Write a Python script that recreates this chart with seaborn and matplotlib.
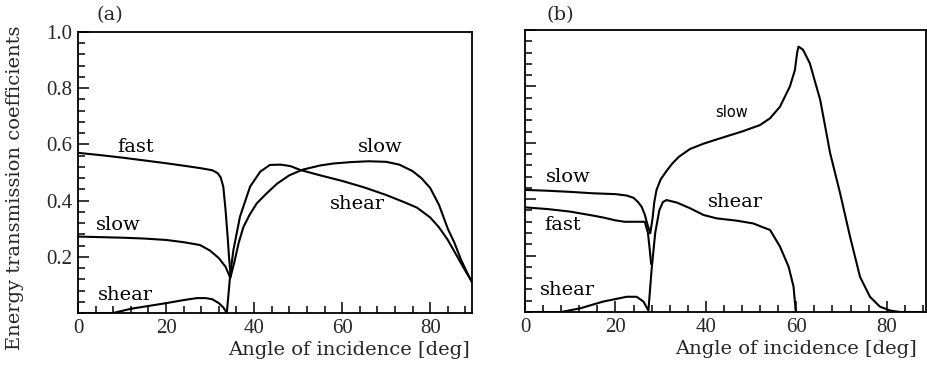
import matplotlib
matplotlib.use("Agg")
import matplotlib.pyplot as plt
from matplotlib.ticker import MultipleLocator, FixedLocator, FixedFormatter
import seaborn as sns

# ---------------- data ----------------
# panel (a)
fast_a_x = [0, 5, 10, 15, 20, 25, 28, 30.5, 31.7, 32.4, 33, 33.5, 34, 34.3, 34.7]
fast_a_y = [0.57, 0.562, 0.553, 0.543, 0.533, 0.522, 0.515, 0.508, 0.498, 0.483, 0.45, 0.37, 0.27, 0.2, 0.13]

slow_a_x = [0, 5, 10, 15, 20, 24, 27.7, 30, 32, 33.5, 34.6, 35.5, 36.5, 37.6, 39, 40.6, 42.8, 45.2, 48, 51,
            55, 58, 62, 66, 70, 73, 76, 78, 80, 82, 84, 85.5, 87, 88.5, 89.5]
slow_a_y = [0.272, 0.27, 0.268, 0.265, 0.26, 0.252, 0.242, 0.222, 0.195, 0.165, 0.125, 0.18, 0.25, 0.307, 0.35,
            0.39, 0.425, 0.46, 0.49, 0.51, 0.525, 0.532, 0.537, 0.54, 0.538, 0.528, 0.505, 0.48, 0.445, 0.385,
            0.3, 0.25, 0.19, 0.14, 0.11]

shear_a_x = [0, 5, 8, 12, 16, 20, 24, 27, 29, 30.5, 32, 33, 33.8, 34.6, 35.3, 36.8, 39.1, 41.4, 43.6, 46, 48.2,
             50.5, 55, 60, 65, 70, 74, 77, 80, 82, 84, 86, 88, 89.5]
shear_a_y = [0.0, 0.0, 0.0, 0.015, 0.025, 0.035, 0.046, 0.053, 0.053, 0.049, 0.035, 0.02, 0.0, 0.14, 0.224,
             0.343, 0.45, 0.503, 0.527, 0.528, 0.523, 0.509, 0.49, 0.47, 0.447, 0.42, 0.395, 0.375, 0.34, 0.305,
             0.26, 0.205, 0.15, 0.11]

# panel (b)
fast_b_x = [0, 5, 10, 15, 17.3, 20, 22, 26.5, 27.2, 27.6, 27.9]
fast_b_y = [0.371, 0.365, 0.356, 0.342, 0.335, 0.325, 0.32, 0.32, 0.28, 0.22, 0.17]

slow_b_x = [0, 5, 10, 15, 20, 22.5, 24, 25, 25.8, 26.5, 27, 27.7, 28.2, 28.6, 29.1, 30, 31.3, 32.5, 34, 36.5,
            39.5, 43, 48, 52, 54.2, 56.4, 58.6, 59.7, 60.2, 60.5, 61.5, 63, 65.3, 67.5, 69.7, 71.9, 74.1, 76.3,
            78.5, 80.8, 83, 89]
slow_b_y = [0.433, 0.43, 0.426, 0.421, 0.418, 0.413, 0.405, 0.39, 0.373, 0.345, 0.315, 0.279, 0.33, 0.39, 0.433,
            0.47, 0.5, 0.525, 0.55, 0.578, 0.597, 0.615, 0.64, 0.663, 0.687, 0.728, 0.8, 0.858, 0.92, 0.941, 0.93,
            0.882, 0.752, 0.563, 0.421, 0.267, 0.125, 0.054, 0.019, 0.005, 0.0, 0.0]

shear_b_x = [0, 8, 12.2, 17.3, 22.5, 24.7, 26.2, 27.3, 28, 28.8, 29.7, 30.5, 31.3, 33.6, 36.5, 39.5, 42.4, 46.8,
             50.5, 52.7, 54.2, 56.4, 58.3, 59.4, 59.9]
shear_b_y = [0.0, 0.0, 0.013, 0.037, 0.054, 0.054, 0.037, 0.005, 0.15, 0.28, 0.36, 0.39, 0.397, 0.388, 0.368,
             0.344, 0.332, 0.324, 0.314, 0.3, 0.291, 0.232, 0.161, 0.09, 0.0]

x_ticks = [0, 20, 40, 60, 80]
y_ticks = [0.2, 0.4, 0.6, 0.8, 1.0]
y_tick_labels = ["0.2", "0.4", "0.6", "0.8", "1.0"]

# ---------------- style ----------------
sns.set_style("ticks")
plt.rcParams["font.family"] = ["Liberation Serif", "DejaVu Serif"]

fig = plt.figure(figsize=(9.28, 3.67), dpi=100)
ax_a = fig.add_axes([78 / 928, 1 - 313 / 367, 394 / 928, 281 / 367])
ax_b = fig.add_axes([525 / 928, 1 - 312 / 367, 401 / 928, 282 / 367])

lw = 1.5
for ax, series in [
    (ax_a, [(fast_a_x, fast_a_y), (slow_a_x, slow_a_y), (shear_a_x, shear_a_y)]),
    (ax_b, [(fast_b_x, fast_b_y), (slow_b_x, slow_b_y), (shear_b_x, shear_b_y)]),
]:
    for xs, ys in series:
        sns.lineplot(x=xs, y=ys, ax=ax, color="black", linewidth=lw,
                     estimator=None, sort=False)

for ax in (ax_a, ax_b):
    ax.set_ylim(0, 1.0)
    ax.xaxis.set_major_locator(FixedLocator(x_ticks))
    ax.xaxis.set_minor_locator(MultipleLocator(4))
    ax.yaxis.set_major_locator(FixedLocator(y_ticks))
    ax.yaxis.set_minor_locator(MultipleLocator(0.04))
    ax.tick_params(which="both", direction="in", top=False, right=False,
                   width=1.1, color="black")
    ax.tick_params(which="major", length=8, labelsize=15, pad=4)
    ax.tick_params(which="minor", length=5)
    for sp in ax.spines.values():
        sp.set_visible(True)
        sp.set_linewidth(1.3)
        sp.set_color("black")
    ax.set_xlabel("Angle of incidence [deg]", family="DejaVu Serif", fontsize=14,
                  loc="right")

ax_a.set_xlim(0, 89.5)
ax_b.set_xlim(0, 88.7)

ax_a.yaxis.set_major_formatter(FixedFormatter(y_tick_labels))
ax_b.set_yticklabels([])

ax_a.xaxis.set_label_coords(0.995, -0.1)
ax_b.xaxis.set_label_coords(0.978, -0.1)

ax_a.set_ylabel("Energy transmission coefficients", family="DejaVu Serif", fontsize=14)
ax_a.yaxis.label.set_va("center")
ax_a.yaxis.set_label_coords(-0.16, 0.445)

tfont = dict(family="DejaVu Serif", fontsize=14, color="black")
ax_a.text(13, 0.59, "fast", ha="center", va="center", **tfont)
ax_a.text(9.1, 0.313, "slow", ha="center", va="center", **tfont)
ax_a.text(10.7, 0.064, "shear", ha="center", va="center", **tfont)
ax_a.text(68.6, 0.59, "slow", ha="center", va="center", **tfont)
ax_a.text(63.4, 0.388, "shear", ha="center", va="center", **tfont)

ax_b.text(9.5, 0.479, "slow", ha="center", va="center", **tfont)
ax_b.text(8.4, 0.309, "fast", ha="center", va="center", **tfont)
ax_b.text(9.3, 0.078, "shear", ha="center", va="center", **tfont)
ax_b.text(45.8, 0.709, "slow", ha="center", va="center", family="DejaVu Sans",
          fontsize=10.5, color="black")
ax_b.text(46.5, 0.39, "shear", ha="center", va="center", **tfont)

ax_a.text(0.08, 1.06, "(a)", transform=ax_a.transAxes, ha="center", va="center",
          family="DejaVu Serif", fontsize=14)
ax_b.text(0.087, 1.053, "(b)", transform=ax_b.transAxes, ha="center", va="center",
          family="DejaVu Serif", fontsize=14)

fig.savefig("out.png", dpi=100, facecolor="white")
